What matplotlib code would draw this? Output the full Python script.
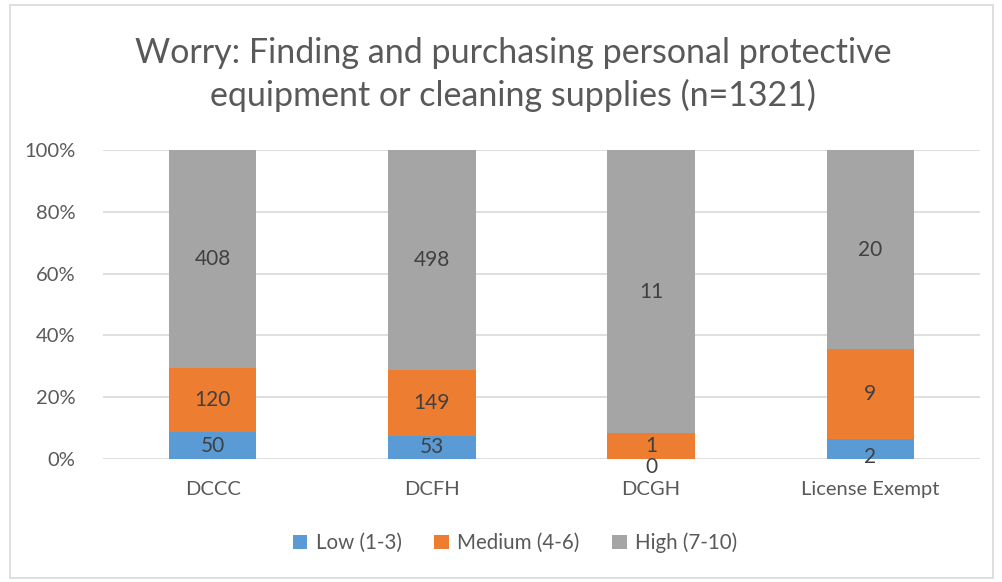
import numpy as np
import matplotlib.pyplot as plt
from matplotlib.patches import Rectangle

plt.rcParams['font.family'] = ['Lato', 'DejaVu Sans']

categories = ['DCCC', 'DCFH', 'DCGH', 'License Exempt']
series_names = ['Low (1-3)', 'Medium (4-6)', 'High (7-10)']
low = [50, 53, 0, 2]
medium = [120, 149, 1, 9]
high = [408, 498, 11, 20]
colors = ['#5B9BD5', '#ED7D31', '#A5A5A5']
yticks = [0, 0.2, 0.4, 0.6, 0.8, 1.0]

text_color = '#595959'

counts = np.array([low, medium, high], dtype=float)
totals = counts.sum(axis=0)
fracs = counts / totals

fig = plt.figure(figsize=(10.02, 5.82), dpi=100)
ax = fig.add_axes([103 / 1002, (582 - 459) / 582, (980 - 103) / 1002, (459 - 150) / 582])

x = np.arange(len(categories))
bottom = np.zeros(len(categories))
for i, name in enumerate(series_names):
    ax.bar(x, fracs[i], 0.4, bottom=bottom, color=colors[i], label=name, zorder=2)
    for j in range(len(categories)):
        f = fracs[i][j]
        yc = bottom[j] + f / 2
        if i == 0 and f < 0.07:
            # small segments: Excel pushes the label down to the axis
            yc = f / 2 - 0.026
        ax.text(x[j], yc, '%d' % counts[i][j], ha='center', va='center',
                fontsize=15, color='#404040', zorder=3)
    bottom += fracs[i]

ax.set_xlim(-0.5, len(categories) - 0.5)
ax.set_ylim(0, 1)
ax.set_yticks(yticks)
ax.set_yticklabels(['%d%%' % round(t * 100) for t in yticks])
ax.set_xticks(x)
ax.set_xticklabels(categories)
ax.tick_params(axis='both', length=0, labelsize=14.5, labelcolor=text_color)
ax.tick_params(axis='y', pad=20)
ax.tick_params(axis='x', pad=16)
ax.yaxis.grid(True, color='#D9D9D9', linewidth=1.2, zorder=0)
for s in ax.spines.values():
    s.set_visible(False)

fig.text(0.512, 0.872, 'Worry: Finding and purchasing personal protective\nequipment or cleaning supplies (n=1321)',
         ha='center', va='center', fontsize=24.5, color=text_color, linespacing=1.35)

fig.legend(loc='center', bbox_to_anchor=(0.514, (582 - 543) / 582), ncol=3, frameon=False,
           fontsize=14.8, labelcolor=text_color, handlelength=0.7, handleheight=0.7,
           handletextpad=0.4, columnspacing=1.6)

fig.patches.append(Rectangle((10 / 1002, 4 / 582), 983 / 1002, 573 / 582, transform=fig.transFigure,
                             fill=False, edgecolor='#D9D9D9', linewidth=1.2))

fig.savefig('out.png', dpi=100)
